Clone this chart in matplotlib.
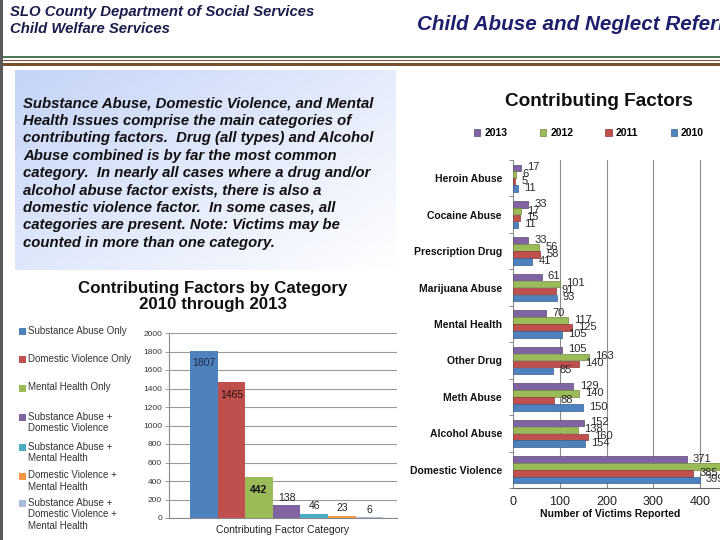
import numpy as np
import matplotlib
matplotlib.use("Agg")
import matplotlib.pyplot as plt
from matplotlib.patches import Rectangle
from matplotlib.ticker import FixedLocator

plt.rcParams['font.family'] = ['Liberation Sans', 'DejaVu Sans']

# ---------------- data ----------------
cat_labels = ["Substance Abuse Only", "Domestic Violence Only", "Mental Health Only",
              "Substance Abuse +\nDomestic Violence", "Substance Abuse +\nMental Health",
              "Domestic Violence +\nMental Health",
              "Substance Abuse +\nDomestic Violence +\nMental Health"]
cat_values = [1807, 1465, 442, 138, 46, 23, 6]
cat_colors = ["#4F81BD", "#C0504D", "#9BBB59", "#8064A2", "#4BACC6", "#F79646", "#A9BCD9"]

factors = ["Heroin Abuse", "Cocaine Abuse", "Prescription Drug", "Marijuana Abuse",
           "Mental Health", "Other Drug", "Meth Abuse", "Alcohol Abuse", "Domestic Violence"]
years = ["2013", "2012", "2011", "2010"]
v2013 = [17, 33, 33, 61, 70, 105, 129, 152, 371]
v2012 = [6, 17, 56, 101, 117, 163, 140, 138, 455]
v2011 = [5, 15, 58, 91, 125, 140, 88, 160, 385]
v2010 = [11, 11, 41, 93, 105, 85, 150, 154, 399]
year_values = [v2013, v2012, v2011, v2010]
year_colors = ["#8064A2", "#9BBB59", "#C0504D", "#4F81BD"]
year_edges = ["#5c4778", "#6f8a3a", "#8c3533", "#365f91"]

body_text = ("Substance Abuse, Domestic Violence, and Mental\n"
             "Health Issues comprise the main categories of\n"
             "contributing factors.  Drug (all types) and Alcohol\n"
             "Abuse combined is by far the most common\n"
             "category.  In nearly all cases where a drug and/or\n"
             "alcohol abuse factor exists, there is also a\n"
             "domestic violence factor.  In some cases, all\n"
             "categories are present. Note: Victims may be\n"
             "counted in more than one category.")

W, H = 720, 540
fig = plt.figure(figsize=(7.2, 5.4), dpi=100)
fig.patch.set_facecolor("white")

def fx(x):
    return x / W

def fy(y):
    return 1 - y / H

def rect(x0, y0, x1, y1, color):
    fig.add_artist(Rectangle((fx(x0), fy(y1)), (x1 - x0) / W, (y1 - y0) / H,
                             transform=fig.transFigure, facecolor=color,
                             edgecolor="none", zorder=0))

# left border and header rules
rect(0, 0, 2.5, 540, "#5a5a5a")
rect(2.5, 55.7, 720, 58.3, "#4d7a55")
rect(2.5, 60.0, 720, 61.2, "#7a4f2e")
rect(2.5, 62.7, 720, 65.7, "#7a4f2e")

fig.text(fx(10), fy(12), "SLO County Department of Social Services",
         fontsize=10.7, fontweight="bold", style="italic", color="#1c1c4c", va="center")
fig.text(fx(10), fy(29), "Child Welfare Services",
         fontsize=10.7, fontweight="bold", style="italic", color="#1c1c4c", va="center")
fig.text(fx(417), fy(24), "Child Abuse and Neglect Referrals",
         fontsize=14.9, fontweight="bold", style="italic", color="#1f1f6e", va="center")

# gradient text box
axbg = fig.add_axes([fx(15), fy(270), 380 / W, 200 / H])
gx, gy = np.meshgrid(np.linspace(0, 1, 200), np.linspace(0, 1, 120))
t = np.clip(0.55 * gx + 0.45 * gy, 0, 1)
c0 = np.array([0.77, 0.83, 0.97])
c1 = np.array([1.0, 1.0, 1.0])
img = c0[None, None, :] * (1 - t[..., None]) + c1[None, None, :] * t[..., None]
axbg.imshow(img, aspect="auto", extent=[0, 1, 0, 1], origin="upper")
axbg.set_axis_off()
fig.text(fx(23), fy(173), body_text, fontsize=10.7, fontweight="bold", style="italic",
         color="#111111", va="center", ha="left", linespacing=1.31)

# ---------------- left chart ----------------
fig.text(fx(213), fy(296.5), "Contributing Factors by Category\n2010 through 2013",
         fontsize=12.2, fontweight="bold", ha="center", va="center", color="#111111",
         linespacing=1.1)

ax1 = fig.add_axes([fx(169), fy(518), (397 - 169) / W, (518 - 333) / H])
xs = np.arange(len(cat_values))
bars1 = ax1.bar(xs, cat_values, width=1.0, color=cat_colors, edgecolor="none", zorder=3)
ax1.set_xlim(-1.26, 7.0)
ax1.set_ylim(0, 2000)
ax1.set_yticks(np.arange(0, 2001, 200))
ax1.yaxis.grid(True, color="#9a9a9a", lw=0.8, zorder=0)
ax1.set_xticks([])
for s in ["top", "right"]:
    ax1.spines[s].set_visible(False)
ax1.spines["left"].set_color("#8a8a8a")
ax1.spines["bottom"].set_color("#8a8a8a")
ax1.tick_params(axis="y", labelsize=6, colors="#333333", length=3, width=0.6, pad=2)
ax1.tick_params(axis="y", color="#8a8a8a")
ax1.set_xlabel("Contributing Factor Category", fontsize=7.5, color="#222222", labelpad=5)
for i, (b, v) in enumerate(zip(bars1, cat_values)):
    if i < 3:
        off = -9
        col = ["#1d2a4f", "#2a1010", "#111111"][i]
        fw = "bold" if i == 2 else "normal"
    else:
        off = 5.5
        col = "#222222"
        fw = "normal"
    ax1.annotate(str(v), (b.get_x() + b.get_width() / 2, v), xytext=(0, off),
                 textcoords="offset points", ha="center", va="center",
                 fontsize=7.5, color=col, fontweight=fw, zorder=5)

# left legend (manual)
legend_y = [331, 359, 388, 417, 447, 476, 503]
for lab, col, y in zip(cat_labels, cat_colors, legend_y):
    rect(19, y - 3.5, 26, y + 3.5, col)
    fig.text(fx(28), fy(y - 5.5), lab, fontsize=7, color="#333333", va="top",
             ha="left", linespacing=1.2)

# ---------------- right chart ----------------
fig.text(fx(599), fy(101), "Contributing Factors", fontsize=13.7, fontweight="bold",
         ha="center", va="center", color="#111111")

ax2 = fig.add_axes([fx(513), fy(488), (747 - 513) / W, (488 - 160) / H])
ys = np.arange(len(factors))
handles = []
for k, (yr, vals, col, ec) in enumerate(zip(years, year_values, year_colors, year_edges)):
    pos = ys + (k - 1.5) * 0.19
    b = ax2.barh(pos, vals, height=0.18, color=col, edgecolor=ec, linewidth=0.5,
                 zorder=3, label=yr)
    handles.append(b)
    for p, v in zip(pos, vals):
        ax2.annotate(str(v), (v, p), xytext=(4.5, 0.5), textcoords="offset points",
                     ha="left", va="center", fontsize=8, color="#2a2a2a", zorder=5,
                     annotation_clip=False)
ax2.set_ylim(len(factors) - 0.5, -0.5)
ax2.set_xlim(0, 500)
ax2.set_xticks([0, 100, 200, 300, 400])
ax2.xaxis.grid(True, color="#8a8a8a", lw=0.8, zorder=0)
ax2.set_yticks(ys)
ax2.set_yticklabels(factors, fontsize=7.5, fontweight="bold", color="#111111")
ax2.yaxis.set_minor_locator(FixedLocator(np.arange(-0.5, len(factors), 1.0)))
ax2.tick_params(axis="y", which="major", length=0, pad=8)
ax2.tick_params(axis="y", which="minor", length=3, width=0.6, color="#777777")
ax2.tick_params(axis="x", length=0, labelsize=9, colors="#222222", pad=6)
for s in ["top", "right", "left"]:
    ax2.spines[s].set_visible(False)
ax2.spines["bottom"].set_color("#666666")
ax2.set_xlabel("Number of Victims Reported", fontsize=7.5, fontweight="bold", color="#111111")
ax2.xaxis.set_label_coords((610 - 513) / 234, -(509 - 488) / 328)

leg = fig.legend(handles=handles, labels=years, loc="center", ncol=4,
                 bbox_to_anchor=(fx(589), fy(133)), frameon=False,
                 prop={"size": 7.5, "weight": "bold"}, handlelength=0.6,
                 handleheight=0.6, handletextpad=0.4, columnspacing=3.1)

fig.savefig("out.png", dpi=100, facecolor="white")
